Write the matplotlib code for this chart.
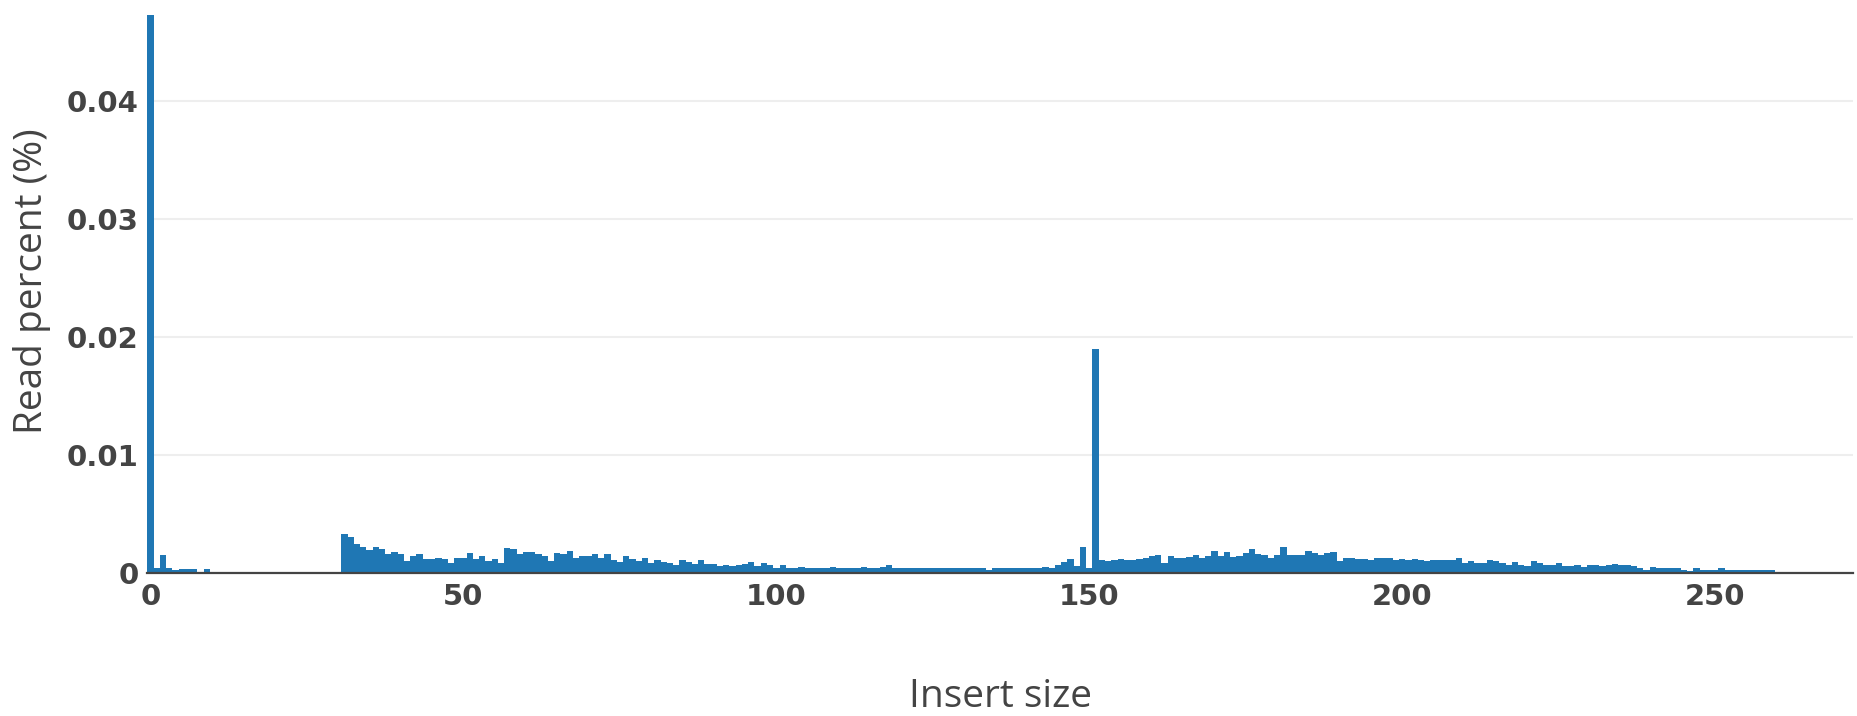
import matplotlib
matplotlib.use('Agg')
import matplotlib.pyplot as plt

# insert size (bp) and share of reads
insert_size = list(range(260))
read_percent = [
    0.0473, 0.00045, 0.0015, 0.00045, 0.00028, 0.0003, 0.0003, 0.0003, 0.0, 0.0003,
    0, 0, 0, 0, 0, 0, 0, 0, 0, 0,
    0, 0, 0, 0, 0, 0, 0, 0, 0, 0,
    0, 0.00328, 0.00303, 0.00243, 0.00218, 0.00192, 0.00218, 0.00204, 0.00158, 0.00175,
    0.00158, 0.00105, 0.00142, 0.00158, 0.00116, 0.00116, 0.00127, 0.00116, 0.00088, 0.00125,
    0.00125, 0.00173, 0.00116, 0.00142, 0.00105, 0.00119, 0.00088, 0.00209, 0.00201, 0.00164,
    0.00175, 0.00175, 0.00158, 0.00142, 0.00105, 0.00167, 0.00158, 0.00184, 0.0013, 0.00142,
    0.00142, 0.00158, 0.0013, 0.00158, 0.00108, 0.00096, 0.00142, 0.00116, 0.00105, 0.00125,
    0.00088, 0.00108, 0.00096, 0.00088, 0.00071, 0.00108, 0.00096, 0.00079, 0.00108, 0.00079,
    0.00079, 0.00062, 0.00071, 0.00062, 0.00071, 0.00079, 0.00096, 0.00062, 0.00088, 0.00071,
    0.00045, 0.00071, 0.00045, 0.00045, 0.00054, 0.00045, 0.00045, 0.00045, 0.00045, 0.00054,
    0.00045, 0.00045, 0.00045, 0.00045, 0.00054, 0.00045, 0.00045, 0.00054, 0.00065, 0.00045,
    0.00045, 0.00045, 0.00045, 0.00045, 0.00045, 0.00045, 0.00045, 0.00045, 0.00045, 0.00045,
    0.00045, 0.00045, 0.00045, 0.00045, 0.00028, 0.00045, 0.00045, 0.00045, 0.00045, 0.00045,
    0.00045, 0.00045, 0.00045, 0.00054, 0.00045, 0.00071, 0.00096, 0.00122, 0.0006, 0.00224,
    0.00045, 0.0190, 0.00113, 0.00105, 0.00113, 0.00122, 0.00113, 0.00113, 0.00122, 0.0013,
    0.00147, 0.00156, 0.00088, 0.00147, 0.00125, 0.0013, 0.00139, 0.00156, 0.00125, 0.00147,
    0.0019, 0.00147, 0.00181, 0.00139, 0.00147, 0.00173, 0.00207, 0.00164, 0.00156, 0.0013,
    0.00156, 0.00218, 0.00156, 0.00156, 0.00156, 0.00184, 0.00173, 0.00156, 0.00173, 0.00181,
    0.00105, 0.0013, 0.0013, 0.00122, 0.00122, 0.00113, 0.0013, 0.0013, 0.0013, 0.00113,
    0.00122, 0.00113, 0.00122, 0.00113, 0.00105, 0.0011, 0.00113, 0.00113, 0.00113, 0.0013,
    0.00088, 0.00105, 0.00088, 0.00088, 0.00113, 0.00105, 0.00088, 0.00071, 0.00096, 0.00071,
    0.00062, 0.00105, 0.00088, 0.00071, 0.00071, 0.00088, 0.00062, 0.00062, 0.00071, 0.00054,
    0.00071, 0.00071, 0.00062, 0.00071, 0.00079, 0.00071, 0.00071, 0.00062, 0.00045, 0.00028,
    0.00054, 0.00045, 0.00045, 0.00045, 0.00045, 0.00028, 0.0002, 0.00045, 0.00028, 0.00028,
    0.00028, 0.00045, 0.00028, 0.00028, 0.00028, 0.00028, 0.00028, 0.00028, 0.00028, 0.00028,
]
assert len(read_percent) == len(insert_size)

x_ticks = [0, 50, 100, 150, 200, 250]
y_ticks = [0, 0.01, 0.02, 0.03, 0.04]
y_tick_labels = ['0', '0.01', '0.02', '0.03', '0.04']

W, H = 1857, 716
fig = plt.figure(figsize=(W / 100, H / 100), dpi=100)
ax = fig.add_axes([147 / W, 143 / H, 1706 / W, 558 / H])

ax.bar(insert_size, read_percent, width=1.0, color='#1f77b4', linewidth=0, zorder=2)

ax.set_xlim(-0.55, 272)
ax.set_ylim(0, 0.0473)

ax.set_xticks(x_ticks)
ax.set_xticklabels([str(t) for t in x_ticks])
ax.set_yticks(y_ticks)
ax.set_yticklabels(y_tick_labels)
for lbl in ax.get_xticklabels() + ax.get_yticklabels():
    lbl.set_fontfamily('DejaVu Sans')
    lbl.set_fontweight('bold')
    lbl.set_fontsize(21)
    lbl.set_color('#444444')
ax.tick_params(axis='x', length=0, pad=7)
ax.tick_params(axis='y', length=0, pad=6)

ax.grid(axis='y', color='#eeeeee', linewidth=1.5, zorder=0)
ax.set_axisbelow(True)
for side in ['top', 'right', 'left']:
    ax.spines[side].set_visible(False)
ax.spines['bottom'].set_color('#444444')
ax.spines['bottom'].set_linewidth(1.6)
ax.spines['bottom'].set_zorder(3)

fig.text(1000 / W, 1 - 697 / H, 'Insert size', ha='center', va='center',
         fontsize=28, color='#444444', family=['Open Sans', 'DejaVu Sans'])
fig.text(32 / W, 1 - 281 / H, 'Read percent (%)', ha='center', va='center',
         rotation=90, fontsize=28, color='#444444', family=['Open Sans', 'DejaVu Sans'])

fig.savefig('out.png', dpi=100, facecolor='white')
